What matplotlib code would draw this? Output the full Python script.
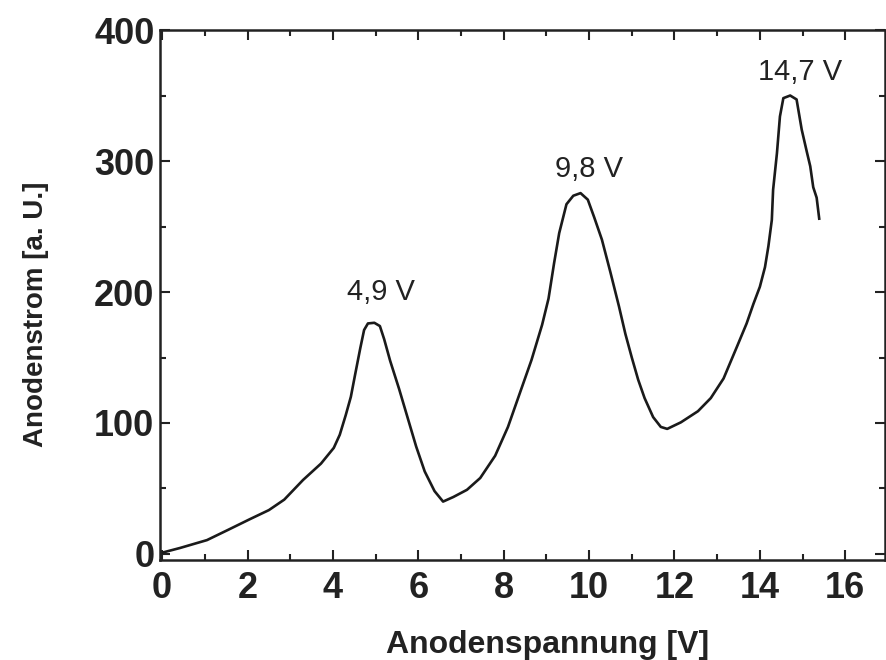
import matplotlib
matplotlib.use("Agg")
import matplotlib.pyplot as plt
from matplotlib.ticker import MultipleLocator

# ---------------------------------------------------------------------------
# Data
# ---------------------------------------------------------------------------
volt = [0.0, 0.42, 1.05, 1.55, 2.05, 2.5, 2.86, 3.3, 3.72, 4.02,
        4.16, 4.30, 4.42, 4.52, 4.64, 4.73, 4.82, 4.97, 5.1, 5.2,
        5.34, 5.55, 5.75, 5.95, 6.15, 6.38, 6.58, 6.82, 7.14, 7.45,
        7.8, 8.1, 8.38, 8.65, 8.9, 9.05, 9.18, 9.3, 9.47, 9.63,
        9.8, 9.97, 10.12, 10.3, 10.5, 10.7, 10.85, 11.0, 11.15, 11.3,
        11.5, 11.68, 11.83, 12.15, 12.55, 12.85, 13.15, 13.46, 13.69, 13.85,
        14.0, 14.12, 14.2, 14.28, 14.31, 14.40, 14.47, 14.55, 14.71, 14.86,
        14.98, 15.1, 15.18, 15.25, 15.33, 15.39]
current = [1, 4.6, 10.6, 18.5, 26.5, 33.5, 41.5, 56.5, 69, 81,
           91, 106, 120, 137, 157, 171, 176, 176.5, 174, 164,
           147.5, 126, 104, 82, 63, 48, 40, 43.5, 49, 58,
           75, 97, 123, 148, 175, 195, 222, 245, 267, 273.5,
           275.5, 270.5, 257, 240, 215, 189, 168, 150, 133, 119,
           104.5, 97, 95.5, 100.5, 109, 119, 134, 158, 176, 191,
           204, 219, 235, 255, 278, 306, 334, 348, 350, 347,
           324, 307, 296, 280, 272, 256]

peak_labels = ["4,9 V", "9,8 V", "14,7 V"]
peak_x = [5.13, 10.0, 14.94]
peak_y = [200, 294, 368]

plt.rcParams['font.family'] = ['Liberation Sans', 'DejaVu Sans']

# ---------------------------------------------------------------------------
# Figure
# ---------------------------------------------------------------------------
fig = plt.figure(figsize=(8.87, 6.6), dpi=100)
ax = fig.add_axes([0.1804, 0.1515, 0.8173, 0.803])

ax.plot(volt, current, color="#1a1a1a", linewidth=1.9)

for label, x, y in zip(peak_labels, peak_x, peak_y):
    ax.text(x, y, label, fontsize=21, ha="center", va="center", color="#222222")

ax.set_xlim(-0.05, 16.93)
ax.set_ylim(-4.6, 400)

ax.xaxis.set_major_locator(MultipleLocator(2))
ax.xaxis.set_minor_locator(MultipleLocator(1))
ax.yaxis.set_major_locator(MultipleLocator(100))
ax.yaxis.set_minor_locator(MultipleLocator(50))

ax.tick_params(which="both", direction="in", top=True, right=True,
               width=1.5, color="#222222")
ax.tick_params(which="major", length=7)
ax.tick_params(which="minor", length=4)
ax.tick_params(axis="x", which="major", pad=8)
ax.tick_params(axis="y", which="major", pad=4)

for lab in ax.get_xticklabels() + ax.get_yticklabels():
    lab.set_fontsize(26)
    lab.set_fontweight("bold")
    lab.set_color("#222222")

for spine in ax.spines.values():
    spine.set_linewidth(1.8)
    spine.set_color("#222222")

ax.set_xlabel("Anodenspannung [V]", fontsize=23, fontweight="bold",
              color="#222222")
ax.set_ylabel("Anodenstrom [a. U.]", fontsize=20, fontweight="bold",
              color="#222222")
# label positions in axes coordinates, as in the original layout
ax.xaxis.set_label_coords(0.534, -0.132)
ax.yaxis.set_label_coords(-0.153, 0.464)

fig.savefig("out.png", dpi=100)
